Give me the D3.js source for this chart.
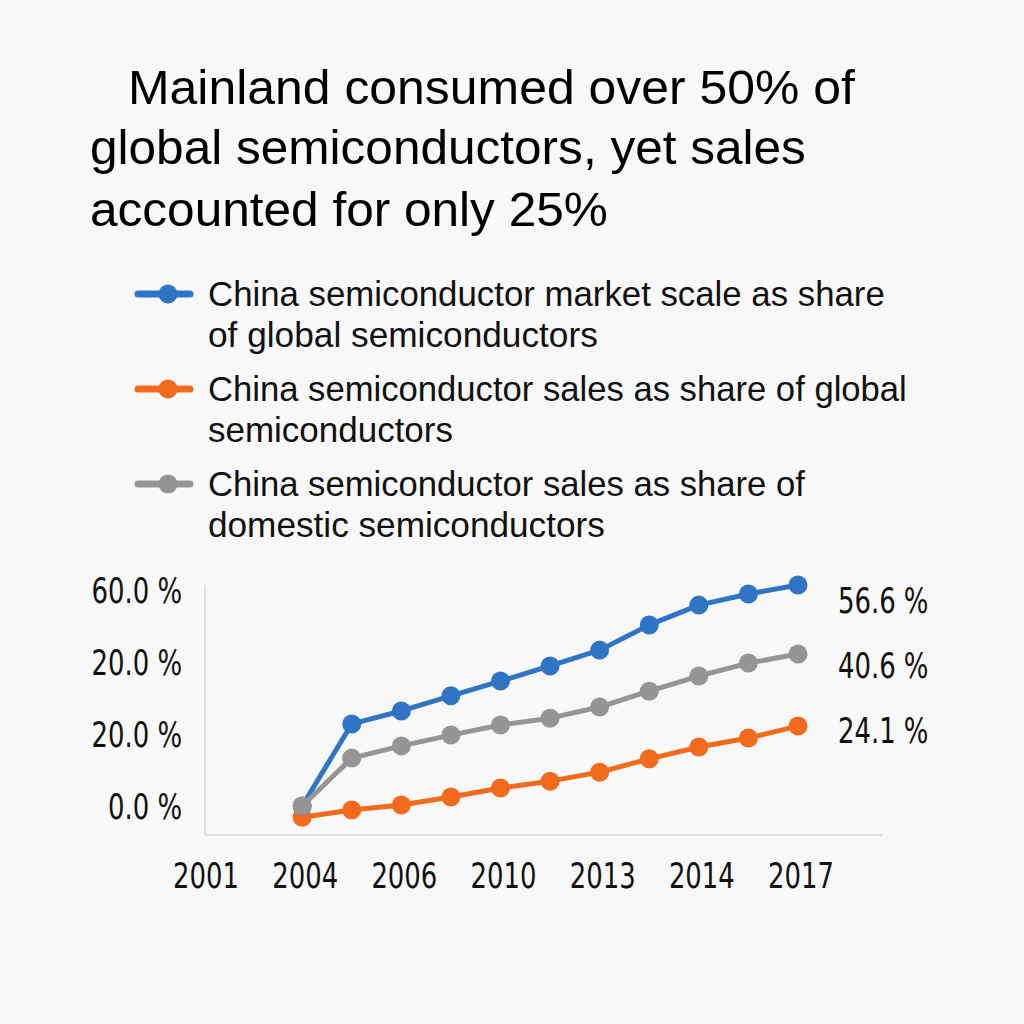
<!DOCTYPE html>
<html lang="en">
<head>
<meta charset="UTF-8" />
<title>Mainland semiconductor share</title>
<script src="https://cdn.jsdelivr.net/npm/d3@7"></script>
<style>
  html, body { margin: 0; padding: 0; background: #f8f8f8; }
  svg { display: block; }
</style>
</head>
<body>
<script>
// ------ Data ------
const titleLines = [
  "Mainland consumed over 50% of",
  "global semiconductors, yet sales",
  "accounted for only 25%"
];
const seriesNames = [
  ["China semiconductor market scale as share", "of global semiconductors"],
  ["China semiconductor sales as share of global", "semiconductors"],
  ["China semiconductor sales as share of", "domestic semiconductors"]
];
const xTickLabels = ["2001", "2004", "2006", "2010", "2013", "2014", "2017"];
const yTickValues = [0, 20, 40, 60];
const yTickLabels = ["0.0 %", "20.0 %", "20.0 %", "60.0 %"];
const marketGlobal  = [0, 22.8, 26.4, 30.6, 34.7, 38.9, 43.3, 50.3, 55.8, 58.9, 61.4];
const salesGlobal   = [-3.1, -1.1, 0.3, 2.5, 5.0, 6.9, 9.4, 13.1, 16.4, 18.9, 22.2];
const salesDomestic = [0, 13.3, 16.7, 19.7, 22.5, 24.4, 27.5, 31.9, 36.1, 39.7, 42.2];
const endLabels = ["56.6 %", "24.1 %", "40.6 %"];
const colors = ["#2f74c5", "#f26a1b", "#959595"];

// ------ Layout ------
const width = 1024, height = 1024;
const svg = d3.select("body").append("svg")
  .attr("width", width).attr("height", height);

svg.append("rect").attr("width", width).attr("height", height).attr("fill", "#f8f8f8");

// text squeezed/stretched horizontally to a given width (the picture's fonts are not installed)
function fitText(parent, str, x, y, size, family, targetW, anchor) {
  const g = parent.append("g");
  const t = g.append("text")
    .attr("font-family", family)
    .attr("font-size", size)
    .attr("fill", "#111")
    .text(str);
  const w = t.node().getComputedTextLength();
  const s = targetW / w;
  const left = anchor === "end" ? x - targetW : anchor === "middle" ? x - targetW / 2 : x;
  g.attr("transform", `translate(${left},${y}) scale(${s},1)`);
  return t;
}

// title
const titleFont = "'Liberation Sans', Arial, sans-serif";
const titleX = [128, 90, 90];
const titleW = [727, 716, 518];
const titleY = [104, 164, 226];
titleLines.forEach((t, i) => {
  fitText(svg, t, titleX[i], titleY[i], 49, titleFont, titleW[i]).attr("fill", "#000");
});

// legend
const legendFont = "'Liberation Sans', Arial, sans-serif";
const legendW = [[677, 390], [699, 245], [597, 397]];
const legend = svg.append("g");
seriesNames.forEach((lines, i) => {
  const y0 = 294 + i * 95;
  legend.append("line")
    .attr("x1", 138).attr("x2", 190)
    .attr("y1", y0).attr("y2", y0)
    .attr("stroke", colors[i]).attr("stroke-width", 7)
    .attr("stroke-linecap", "round");
  legend.append("circle")
    .attr("cx", 168).attr("cy", y0).attr("r", 9.5)
    .attr("fill", colors[i]);
  lines.forEach((t, j) => {
    fitText(legend, t, 208, y0 + 12 + j * 41, 35, legendFont, legendW[i][j]);
  });
});

// ------ Chart ------
const slots = d3.range(13); // two empty slots before the first point
const x = d3.scalePoint().domain(slots).range([203, 798]);
const y = d3.scaleLinear().domain([0, 60]).range([806, 590]);

const axisFont = "'DejaVu Sans Condensed', 'DejaVu Sans', sans-serif";
const axisSize = 36;
const narrow = 0.8;

// axis frame
svg.append("line")
  .attr("x1", 205).attr("x2", 205).attr("y1", 585).attr("y2", 835)
  .attr("stroke", "#c8c8c8").attr("stroke-width", 1);
svg.append("line")
  .attr("x1", 205).attr("x2", 882).attr("y1", 835).attr("y2", 835)
  .attr("stroke", "#c8c8c8").attr("stroke-width", 1);

function narrowText(parent, str, px, py, anchor) {
  return parent.append("text")
    .attr("transform", `translate(${px},${py}) scale(${narrow},1)`)
    .attr("text-anchor", anchor)
    .attr("font-family", axisFont)
    .attr("font-size", axisSize)
    .attr("fill", "#111")
    .text(str);
}

// y tick labels
const yAxisG = svg.append("g");
yTickValues.forEach((v, i) => {
  narrowText(yAxisG, yTickLabels[i], 182, y(v) + 13, "end");
});

// x tick labels on every second slot
const xAxisG = svg.append("g");
xTickLabels.forEach((t, i) => {
  narrowText(xAxisG, t, x(i * 2) + 3, 888, "middle");
});

const series = [marketGlobal, salesGlobal, salesDomestic];
const line = d3.line()
  .x((d, i) => x(i + 2))
  .y(d => y(d));

// orange first, then blue, gray on top (its first point covers the blue one)
const order = [1, 0, 2];
order.forEach(k => {
  const g = svg.append("g");
  g.append("path")
    .datum(series[k])
    .attr("d", line)
    .attr("fill", "none")
    .attr("stroke", colors[k])
    .attr("stroke-width", 5)
    .attr("stroke-linejoin", "round");
  g.selectAll("circle").data(series[k]).join("circle")
    .attr("cx", (d, i) => x(i + 2))
    .attr("cy", d => y(d))
    .attr("r", 9.5)
    .attr("fill", colors[k]);
});

// end labels
const endY = [600, 730, 665];
series.forEach((s, k) => {
  narrowText(svg, endLabels[k], 838, endY[k] + 13, "start");
});
</script>
</body>
</html>
